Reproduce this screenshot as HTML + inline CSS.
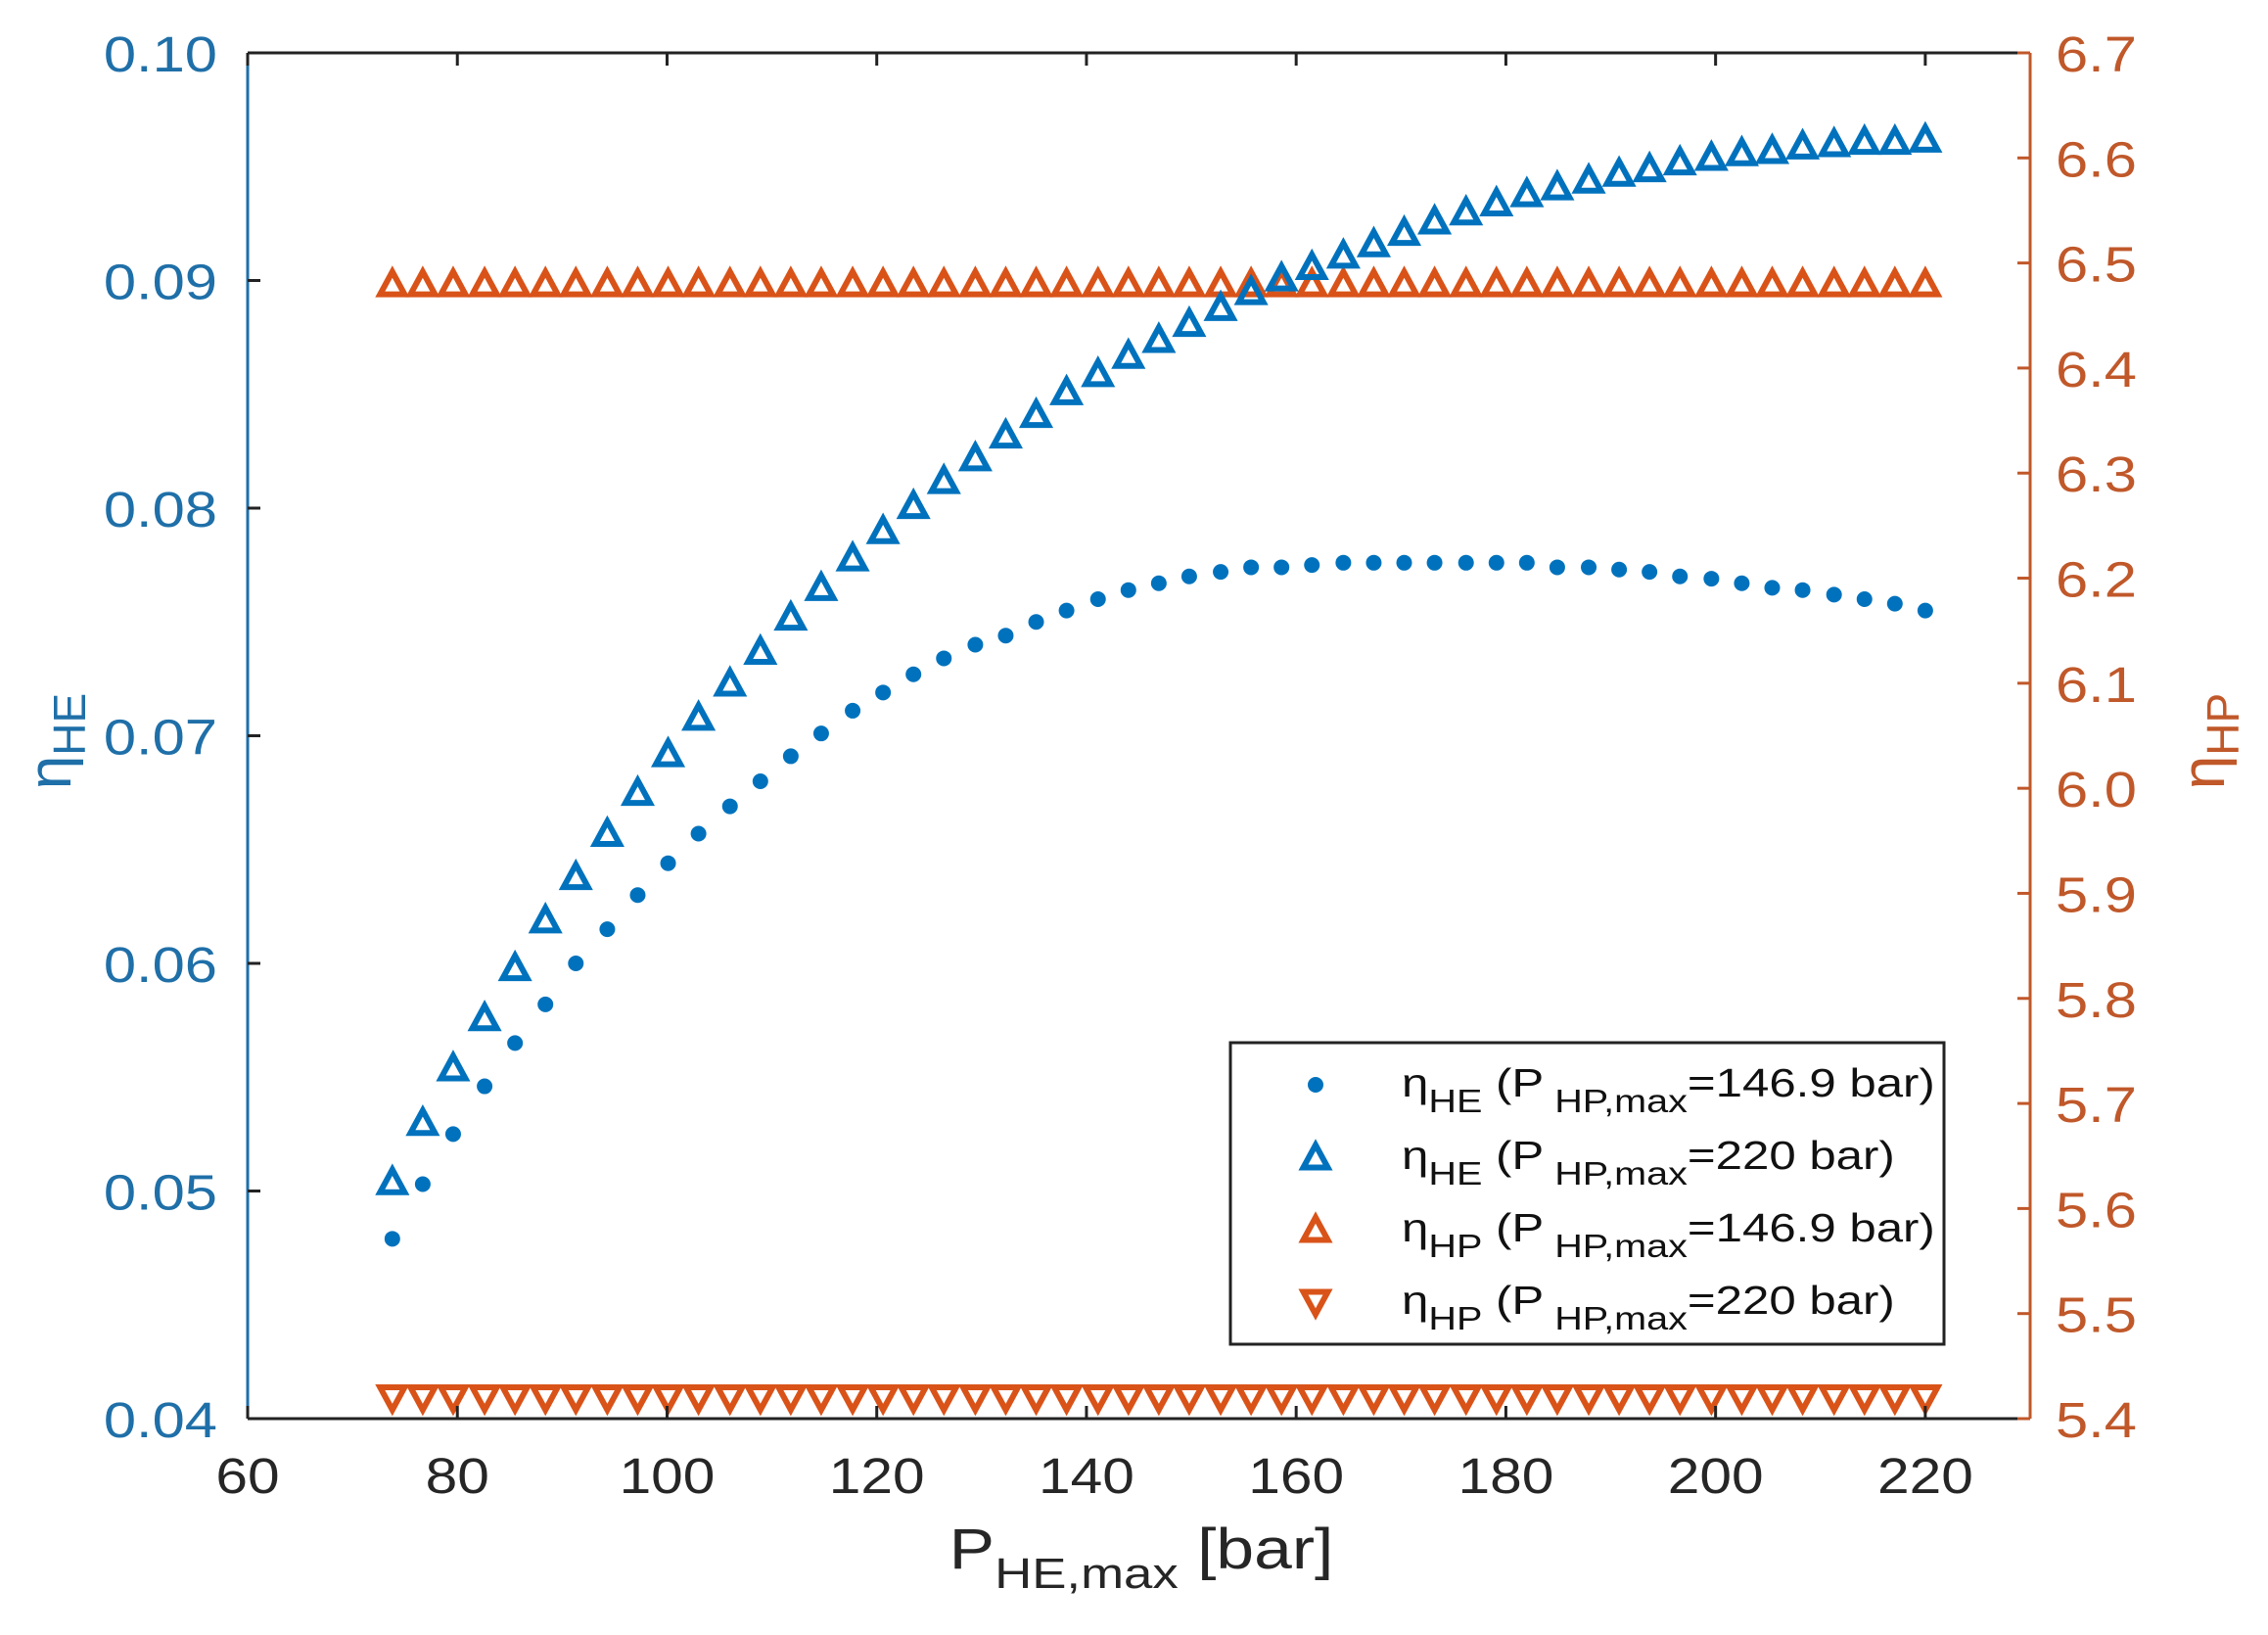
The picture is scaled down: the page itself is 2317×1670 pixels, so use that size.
<!DOCTYPE html>
<html><head><meta charset="utf-8"><style>
html,body{margin:0;padding:0;background:#fff;}
svg text{font-family:"Liberation Sans",Arial,sans-serif;}
</style></head><body>
<svg id="chart" width="2317" height="1665" viewBox="0 0 2317 1665" xmlns="http://www.w3.org/2000/svg">
<rect x="0" y="0" width="2317" height="1665" fill="#fff"/>
<g id="marks"></g>
<g id="axes"></g>
<g id="legend">
  <rect x="1257" y="1065" width="729" height="308" fill="#fff" stroke="#222" stroke-width="3"/>
</g>
</svg>
<script>
const xValues = [73.8,76.7,79.6,82.6,85.5,88.4,91.3,94.3,97.2,100.1,103.0,106.0,108.9,111.8,114.7,117.7,120.6,123.5,126.4,129.4,132.3,135.2,138.1,141.1,144.0,146.9,149.8,152.8,155.7,158.6,161.5,164.5,167.4,170.3,173.2,176.2,179.1,182.0,184.9,187.9,190.8,193.7,196.6,199.6,202.5,205.4,208.3,211.3,214.2,217.1,220.0];
const heLow = [0.0479,0.0503,0.0525,0.0546,0.0565,0.0582,0.0600,0.0615,0.0630,0.0644,0.0657,0.0669,0.0680,0.0691,0.0701,0.0711,0.0719,0.0727,0.0734,0.0740,0.0744,0.0750,0.0755,0.0760,0.0764,0.0767,0.0770,0.0772,0.0774,0.0774,0.0775,0.0776,0.0776,0.0776,0.0776,0.0776,0.0776,0.0776,0.0774,0.0774,0.0773,0.0772,0.0770,0.0769,0.0767,0.0765,0.0764,0.0762,0.0760,0.0758,0.0755];
const heHigh = [0.0504,0.0530,0.0554,0.0576,0.0598,0.0619,0.0638,0.0657,0.0675,0.0692,0.0708,0.0723,0.0737,0.0752,0.0765,0.0778,0.0790,0.0801,0.0812,0.0822,0.0832,0.0841,0.0851,0.0859,0.0867,0.0874,0.0881,0.0888,0.0895,0.0901,0.0906,0.0911,0.0916,0.0921,0.0926,0.0930,0.0934,0.0938,0.0941,0.0944,0.0947,0.0949,0.0952,0.0954,0.0956,0.0957,0.0959,0.0960,0.0961,0.0961,0.0962];
const hpLow = xValues.map(()=>6.48);
const hpHigh = xValues.map(()=>5.42);
const xTicks = [60,80,100,120,140,160,180,200,220];
const yLeftTicks = ["0.04","0.05","0.06","0.07","0.08","0.09","0.10"];
const yRightTicks = ["5.4","5.5","5.6","5.7","5.8","5.9","6.0","6.1","6.2","6.3","6.4","6.5","6.6","6.7"];

const L=253,R=2074,T=54,B=1449;
const BLUE="#0072BD",ORANGE="#D95319";
const xS=v=>L+(v-60)/(230-60)*(R-L);
const yL=v=>B-(v-0.04)/(0.10-0.04)*(B-T);
const yR=v=>B-(v-5.4)/(6.7-5.4)*(B-T);
const NS="http://www.w3.org/2000/svg";
function mk(tag,attrs,parent){const e=document.createElementNS(NS,tag);for(const k in attrs)e.setAttribute(k,attrs[k]);parent.appendChild(e);return e;}
const marks=document.getElementById('marks'),axes=document.getElementById('axes'),legend=document.getElementById('legend');

function tri(cx,cy,up,color,parent){
  const h=21,w=25;
  const pts=up?`${cx},${cy-h/2-2} ${cx-w/2},${cy+h/2} ${cx+w/2},${cy+h/2}`:`${cx},${cy+h/2+2} ${cx-w/2},${cy-h/2} ${cx+w/2},${cy-h/2}`;
  return mk('polygon',{points:pts,fill:'none',stroke:color,'stroke-width':6,'stroke-linejoin':'miter'},parent);
}
function dot(cx,cy,color,parent){return mk('circle',{cx:cx,cy:cy,r:8,fill:color},parent);}

const gA=mk('g',{},marks);
const gB=mk('g',{},marks);
const gC=mk('g',{},marks);
const gD=mk('g',{},marks);
xValues.forEach((x,i)=>{
  let e=tri(xS(x),yR(hpLow[i]),true,ORANGE,gA);
  
  
  e=tri(xS(x),yR(hpHigh[i]),false,ORANGE,gB);
  
  
  e=tri(xS(x),yL(heHigh[i]),true,BLUE,gC);
  
  
  e=dot(xS(x),yL(heLow[i]),BLUE,gD);
  
  
});

let ln=mk('line',{x1:L,y1:T,x2:R,y2:T,stroke:'#222','stroke-width':3},axes);

ln=mk('line',{x1:L,y1:B,x2:R,y2:B,stroke:'#222','stroke-width':3},axes);

ln=mk('line',{x1:L,y1:T,x2:L,y2:B,stroke:'#1f6fa8','stroke-width':3},axes);

ln=mk('line',{x1:R,y1:T,x2:R,y2:B,stroke:'#c0582a','stroke-width':3},axes);


function stx(x,y,sx){return `translate(${x},${y}) scale(${sx},1)`;}

xTicks.forEach(v=>{
  const x=xS(v);
  mk('line',{x1:x,y1:B,x2:x,y2:B-13,stroke:'#222','stroke-width':3},axes);
  mk('line',{x1:x,y1:T,x2:x,y2:T+13,stroke:'#222','stroke-width':3},axes);
  const t=mk('text',{x:0,y:0,transform:stx(x,1525,1.15),'text-anchor':'middle','font-size':51,fill:'#262626'},axes);
  t.textContent=v;
  
  
});
yLeftTicks.forEach(s=>{
  const y=yL(parseFloat(s));
  mk('line',{x1:L,y1:y,x2:L+13,y2:y,stroke:'#222','stroke-width':3},axes);
  const t=mk('text',{x:0,y:0,transform:stx(222,y+19,1.17),'text-anchor':'end','font-size':51,fill:'#1f6fa8'},axes);
  t.textContent=s;
  
  
});
yRightTicks.forEach(s=>{
  const y=yR(parseFloat(s));
  mk('line',{x1:R,y1:y,x2:R-13,y2:y,stroke:'#c0582a','stroke-width':3},axes);
  const t=mk('text',{x:0,y:0,transform:stx(2100,y+19,1.17),'text-anchor':'start','font-size':51,fill:'#c0582a'},axes);
  t.textContent=s;
  
  
});

let at=mk('text',{x:0,y:0,'font-size':62,fill:'#1f6fa8',transform:'translate(72,757) rotate(-90)','text-anchor':'middle'},axes);
at.innerHTML='η<tspan font-size="46" dy="15">HE</tspan>';

at=mk('text',{x:0,y:0,'font-size':62,fill:'#c0582a',transform:'translate(2272,757) rotate(-90)','text-anchor':'middle'},axes);
at.innerHTML='η<tspan font-size="46" dy="15">HP</tspan>';

at=mk('text',{x:0,y:0,transform:stx(1166,1602,1.2),'font-size':58,fill:'#262626','text-anchor':'middle'},axes);
at.innerHTML='P<tspan font-size="44" dy="20">HE,max</tspan><tspan dy="-20"> [bar]</tspan>';


const legSub=["HE","HE","HP","HP"];
const legVal=["146.9","220","146.9","220"];
const legY=[1108,1182,1256,1330];
legY.forEach((y,i)=>{
  let m;
  if(i===0) m=dot(1344,y,BLUE,legend);
  else if(i===1) m=tri(1344,y,true,BLUE,legend);
  else if(i===2) m=tri(1344,y,true,ORANGE,legend);
  else m=tri(1344,y,false,ORANGE,legend);
  
  
  const t=mk('text',{x:0,y:0,transform:stx(1432,y+12,1.2),'font-size':41,fill:'#111'},legend);
  t.innerHTML=`η<tspan font-size="33" dy="16">${legSub[i]}</tspan><tspan dy="-16"> (P</tspan><tspan font-size="33" dy="16"> HP,max</tspan><tspan dy="-16">=${legVal[i]} bar)</tspan>`;
  
  
});
</script>
</body></html>
